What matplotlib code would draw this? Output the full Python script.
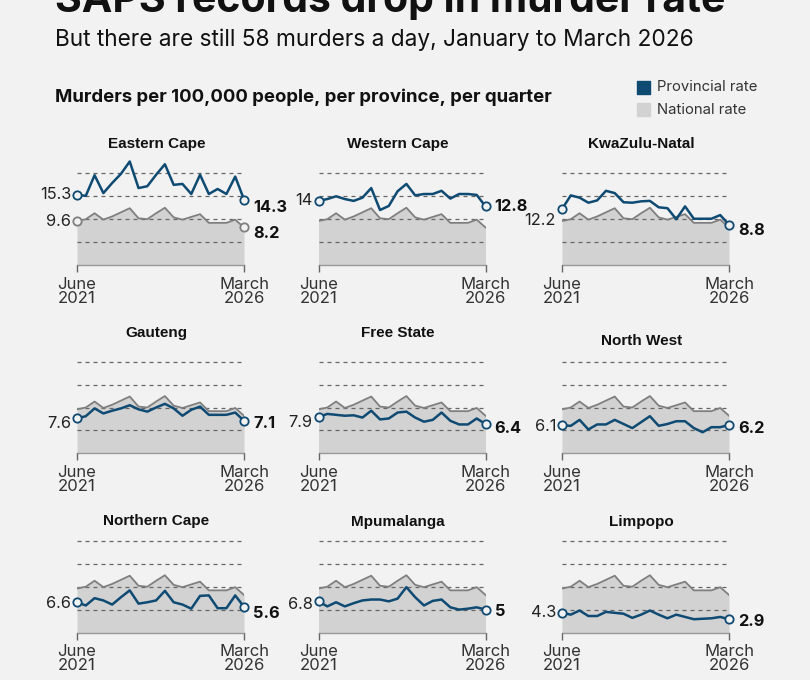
import numpy as np
import matplotlib.pyplot as plt
from matplotlib.patches import Rectangle

# murders per 100,000 people, quarterly, June 2021 .. March 2026
national = [9.6, 10.0, 11.3, 9.9, 10.6, 11.5, 12.4, 10.2, 10.0, 11.3,
            12.5, 10.4, 9.9, 10.5, 11.1, 9.2, 9.2, 9.2, 9.9, 8.2]

eastern_cape = [15.3, 15.1, 19.6, 15.7, 17.9, 19.9, 22.6, 16.8, 17.2, 19.7,
                22.0, 17.5, 17.7, 15.5, 19.7, 15.5, 16.6, 15.5, 19.3, 14.3]
western_cape = [14.0, 14.4, 15.0, 14.4, 14.0, 14.7, 16.8, 12.0, 12.9, 16.1,
                17.7, 15.2, 15.5, 15.5, 16.2, 14.5, 15.5, 15.5, 15.3, 12.8]
kwazulu_natal = [12.2, 15.2, 14.7, 13.6, 14.1, 16.2, 15.7, 13.7, 13.6, 13.9,
                 14.0, 12.6, 12.4, 10.0, 12.8, 10.1, 10.1, 10.1, 10.9, 8.8]
gauteng = [7.6, 8.1, 9.8, 8.7, 9.3, 9.8, 10.5, 9.6, 9.1, 10.0,
           10.8, 9.8, 8.2, 9.5, 10.2, 8.4, 8.4, 8.4, 8.9, 7.1]
free_state = [7.9, 8.6, 8.4, 8.2, 8.3, 7.8, 9.3, 7.4, 7.6, 8.9,
              9.1, 7.8, 6.9, 7.3, 8.9, 7.1, 6.3, 6.3, 7.6, 6.4]
north_west = [6.1, 6.0, 7.3, 5.2, 6.3, 6.3, 7.3, 6.4, 5.5, 6.8,
              8.1, 6.0, 6.4, 7.0, 7.0, 5.5, 4.6, 5.7, 5.7, 6.2]
northern_cape = [6.6, 5.9, 7.5, 7.0, 6.1, 7.7, 9.2, 6.3, 6.6, 7.0,
                 9.1, 6.6, 6.1, 5.2, 8.0, 8.1, 5.3, 5.3, 8.1, 5.6]
mpumalanga = [6.8, 5.7, 6.6, 5.7, 6.4, 7.0, 7.2, 7.2, 6.8, 7.4,
              9.9, 7.7, 5.9, 6.9, 7.2, 5.5, 5.0, 5.2, 5.5, 5.0]
limpopo = [4.3, 3.9, 4.8, 3.6, 3.6, 4.5, 4.3, 4.1, 3.2, 3.9,
           4.8, 3.9, 3.1, 3.9, 3.4, 2.9, 3.0, 3.1, 3.4, 2.9]

provinces = ['Eastern Cape', 'Western Cape', 'KwaZulu-Natal',
             'Gauteng', 'Free State', 'North West',
             'Northern Cape', 'Mpumalanga', 'Limpopo']
series = [eastern_cape, western_cape, kwazulu_natal,
          gauteng, free_state, north_west,
          northern_cape, mpumalanga, limpopo]
tick_labels = ['June\n2021', 'March\n2026']

# layout (pixels of the 810x680 picture)
W, H = 810, 680
col_left = [77, 318.5, 562]
row_base = [265, 453.3, 632.5]
plot_w = 167
px_per_unit = 4.58
ymax = 24
title_y = [144, 144, 144, 332.7, 332.7, 340.7, 520.7, 522.3, 522.3]
left_off = [0, 0, 11, 5, 5, 1.3, 1, 3.4, -0.7]
right_off = [8, 0, 6, 2.5, 4.3, 4, 7, 1.5, 2.3]

BG = '#f2f2f2'
BLUE = '#0f4a73'
GREY_FILL = '#d2d2d2'
GREY_LINE = '#7f7f7f'
PT = 0.72  # points per pixel at dpi 100

plt.rcParams['font.family'] = ['Inter', 'DejaVu Sans']

fig = plt.figure(figsize=(W / 100, H / 100), dpi=100, facecolor=BG)


def fx(x):
    return x / W


def fy(y):
    return 1 - y / H


fig.text(fx(55), fy(12), 'SAPS records drop in murder rate', fontsize=29.5,
         fontweight='bold', color='#111111', va='baseline', ha='left')
fig.text(fx(55), fy(40), 'But there are still 58 murders a day, January to March 2026',
         fontsize=16.3, color='#111111', va='center', ha='left')
fig.text(fx(55), fy(97), 'Murders per 100,000 people, per province, per quarter',
         fontsize=13.4, fontweight='bold', color='#111111', va='center', ha='left')

fig.patches.append(Rectangle((fx(637), fy(94)), 13 / W, 13 / H, transform=fig.transFigure,
                             color=BLUE, figure=fig))
fig.patches.append(Rectangle((fx(637), fy(116)), 13 / W, 13 / H, transform=fig.transFigure,
                             color=GREY_FILL, figure=fig))
fig.text(fx(657), fy(87), 'Provincial rate', fontsize=10.7, color='#333333', va='center')
fig.text(fx(657), fy(110), 'National rate', fontsize=10.7, color='#333333', va='center')

x = np.arange(len(national))

for i, (name, prov) in enumerate(zip(provinces, series)):
    r, c = divmod(i, 3)
    left = col_left[c]
    base = row_base[r]
    h = ymax * px_per_unit
    ax = fig.add_axes([fx(left), (H - base) / H, plot_w / W, h / H])
    ax.set_facecolor('none')
    ax.set_xlim(0, len(national) - 1)
    ax.set_ylim(0, ymax)

    ax.fill_between(x, national, 0, color=GREY_FILL, lw=0, zorder=1)
    ax.plot(x, national, color=GREY_LINE, lw=1.3, zorder=3)
    ax.plot(x, prov, color=BLUE, lw=1.8, zorder=4)
    ax.plot([x[0], x[-1]], [prov[0], prov[-1]], ls='none', marker='o', ms=6,
            mfc=BG, mec=BLUE, mew=1.3, zorder=5, clip_on=False)

    ax.set_yticks([5, 10, 15, 20])
    ax.set_yticklabels([])
    ax.tick_params(axis='y', length=0)
    ax.yaxis.grid(True, color='#666666', lw=0.9, ls=(0, (3.2, 3.2)))
    ax.set_axisbelow(False)

    ax.set_xticks([x[0], x[-1]])
    ax.set_xticklabels(tick_labels, fontsize=12, color='#333333')
    ax.tick_params(axis='x', length=5, width=1, color='#666666', pad=3.5)
    for lbl in ax.get_xticklabels():
        lbl.set_linespacing(0.92)

    for s in ['top', 'left', 'right']:
        ax.spines[s].set_visible(False)
    ax.spines['bottom'].set_color('#999999')
    ax.spines['bottom'].set_linewidth(1)

    ax.annotate(f'{prov[0]:g}', xy=(x[0], prov[0]), xytext=(-6 * PT, -left_off[i] * PT),
                textcoords='offset points', ha='right', va='center',
                fontsize=11.8, color='#222222', annotation_clip=False)
    ax.annotate(f'{prov[-1]:g}', xy=(x[-1], prov[-1]), xytext=(9 * PT, -right_off[i] * PT),
                textcoords='offset points', ha='left', va='center',
                fontsize=11.8, fontweight='bold', color='#111111', annotation_clip=False)

    if i == 0:
        ax.plot([x[0], x[-1]], [national[0], national[-1]], ls='none', marker='o', ms=6,
                mfc=BG, mec=GREY_LINE, mew=1.3, zorder=5, clip_on=False)
        ax.annotate(f'{national[0]:g}', xy=(x[0], national[0]), xytext=(-6 * PT, 0),
                    textcoords='offset points', ha='right', va='center',
                    fontsize=11.8, color='#222222', annotation_clip=False)
        ax.annotate(f'{national[-1]:g}', xy=(x[-1], national[-1]), xytext=(9 * PT, -6 * PT),
                    textcoords='offset points', ha='left', va='center',
                    fontsize=11.8, fontweight='bold', color='#111111', annotation_clip=False)

    fig.text(fx(left + plot_w / 2 - 4), fy(title_y[i]), name, fontsize=11,
             fontweight='bold', family=['Liberation Sans', 'DejaVu Sans'],
             color='#111111', ha='center', va='center')

fig.savefig('out.png', dpi=100, facecolor=BG)
